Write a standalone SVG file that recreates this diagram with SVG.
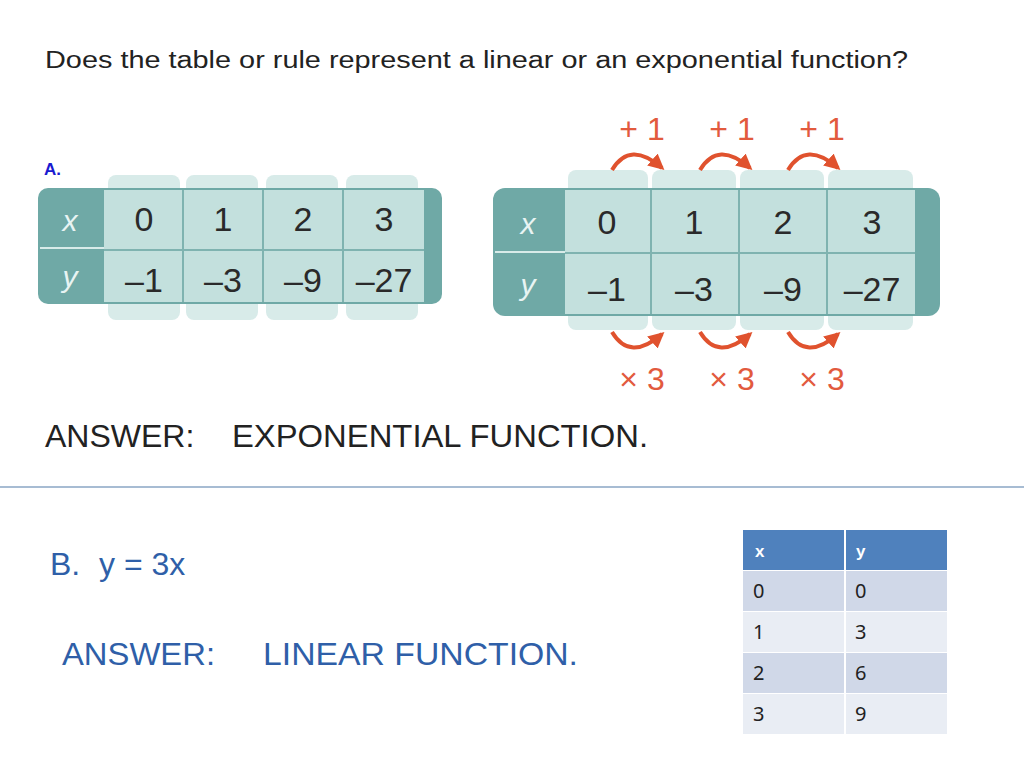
<svg xmlns="http://www.w3.org/2000/svg" width="1024" height="768" viewBox="0 0 1024 768">
<style>
text{font-family:"Liberation Sans","Noto Sans",sans-serif}
.tab{fill:#6fa9a6}
.cell{fill:#c3e0dd}
.ext{fill:#d8ebe9}
.num{font-size:34px;fill:#2a2a2a;text-anchor:middle}
.hx{font-size:30px;fill:#e8f4f3;font-style:italic;text-anchor:middle}
.red{font-size:32px;fill:#e25a3e;text-anchor:middle}
.arc{fill:none;stroke:#e0522e;stroke-width:4}
.sm{font-family:"Noto Sans","Liberation Sans",sans-serif;font-size:20px;fill:#222}
.blue{font-size:32px;fill:#2f5fa8}
</style>
<defs>
<marker id="ah" viewBox="0 0 10 10" refX="8" refY="5" markerWidth="4" markerHeight="4" orient="auto"><path d="M0,0L10,5L0,10z" fill="#e0522e"/></marker>
</defs>
<rect width="1024" height="768" fill="#fff"/>
<text x="45" y="68" font-size="23" fill="#222" textLength="863" lengthAdjust="spacingAndGlyphs">Does the table or rule represent a linear or an exponential function?</text>
<text x="44" y="175" font-size="17" font-weight="bold" fill="#1a1ad0">A.</text>

<g id="tableA">
<rect class="ext" x="108" y="175" width="72" height="145" rx="8"/>
<rect class="ext" x="186" y="175" width="72" height="145" rx="8"/>
<rect class="ext" x="266" y="175" width="72" height="145" rx="8"/>
<rect class="ext" x="346" y="175" width="72" height="145" rx="8"/>
<rect class="tab" x="38" y="188" width="404" height="116" rx="10"/>
<rect class="cell" x="104" y="190" width="320" height="112"/>
<g stroke="#7fb3b0" stroke-width="2"><line x1="104" y1="250" x2="424" y2="250"/><line x1="183" y1="190" x2="183" y2="302"/><line x1="263" y1="190" x2="263" y2="302"/><line x1="343" y1="190" x2="343" y2="302"/></g>
<line x1="40" y1="248" x2="104" y2="248" stroke="#d8ebe9" stroke-width="2"/>
<text class="hx" x="70" y="231">x</text><text class="hx" x="70" y="287">y</text>
<text class="num" x="144" y="231">0</text><text class="num" x="223" y="231">1</text><text class="num" x="303" y="231">2</text><text class="num" x="384" y="231">3</text>
<text class="num" x="144" y="292">–1</text><text class="num" x="223" y="292">–3</text><text class="num" x="303" y="292">–9</text><text class="num" x="384" y="292">–27</text>
</g>

<g id="tableB">
<rect class="ext" x="568" y="170" width="80" height="160" rx="8"/>
<rect class="ext" x="652" y="170" width="84" height="160" rx="8"/>
<rect class="ext" x="740" y="170" width="84" height="160" rx="8"/>
<rect class="ext" x="828" y="170" width="85" height="160" rx="8"/>
<rect class="tab" x="493" y="188" width="447" height="128" rx="12"/>
<rect class="cell" x="565" y="190" width="350" height="124"/>
<g stroke="#7fb3b0" stroke-width="2"><line x1="565" y1="253" x2="915" y2="253"/><line x1="651" y1="190" x2="651" y2="314"/><line x1="739" y1="190" x2="739" y2="314"/><line x1="827" y1="190" x2="827" y2="314"/></g>
<line x1="495" y1="252" x2="565" y2="252" stroke="#d8ebe9" stroke-width="2"/>
<text class="hx" x="528" y="234">x</text><text class="hx" x="528" y="295">y</text>
<text class="num" x="607" y="234">0</text><text class="num" x="694" y="234">1</text><text class="num" x="783" y="234">2</text><text class="num" x="872" y="234">3</text>
<text class="num" x="607" y="301">–1</text><text class="num" x="694" y="301">–3</text><text class="num" x="783" y="301">–9</text><text class="num" x="872" y="301">–27</text>
</g>

<g id="connectors">
<path class="arc" d="M612,170 Q630,140 662,168" marker-end="url(#ah)"/>
<path class="arc" d="M700,170 Q718,140 750,168" marker-end="url(#ah)"/>
<path class="arc" d="M788,170 Q806,140 838,168" marker-end="url(#ah)"/>
<path class="arc" d="M612,332 Q630,362 662,334" marker-end="url(#ah)"/>
<path class="arc" d="M700,332 Q718,362 750,334" marker-end="url(#ah)"/>
<path class="arc" d="M788,332 Q806,362 838,334" marker-end="url(#ah)"/>
</g>
<text class="red" x="642" y="140">+ 1</text><text class="red" x="732" y="140">+ 1</text><text class="red" x="822" y="140">+ 1</text>
<text class="red" x="642" y="390">× 3</text><text class="red" x="732" y="390">× 3</text><text class="red" x="822" y="390">× 3</text>

<text x="45" y="447" font-size="32" fill="#222">ANSWER:</text>
<text x="232" y="447" font-size="32" fill="#222" textLength="416" lengthAdjust="spacingAndGlyphs">EXPONENTIAL FUNCTION.</text>
<line x1="0" y1="487" x2="1024" y2="487" stroke="#8aa6c4" stroke-width="1.5"/>

<text class="blue" x="50" y="575">B.</text>
<text class="blue" x="99" y="575">y = 3x</text>
<text class="blue" x="62" y="665" textLength="153" lengthAdjust="spacingAndGlyphs">ANSWER:</text>
<text class="blue" x="263" y="665" textLength="315" lengthAdjust="spacingAndGlyphs">LINEAR  FUNCTION.</text>

<g id="tableC">
<rect x="743" y="530" width="204" height="40" fill="#4f81bd"/>
<rect x="743" y="571" width="204" height="40" fill="#d0d8e8"/>
<rect x="743" y="612" width="204" height="40" fill="#e9edf4"/>
<rect x="743" y="653" width="204" height="40" fill="#d0d8e8"/>
<rect x="743" y="694" width="204" height="40" fill="#e9edf4"/>
<line x1="845" y1="530" x2="845" y2="734" stroke="#fff" stroke-width="2"/>
<text x="755" y="557" font-size="17" font-weight="bold" fill="#fff">x</text>
<text x="856" y="557" font-size="17" font-weight="bold" fill="#fff">y</text>
<text class="sm" x="753" y="598">0</text><text class="sm" x="855" y="598">0</text>
<text class="sm" x="753" y="639">1</text><text class="sm" x="855" y="639">3</text>
<text class="sm" x="753" y="680">2</text><text class="sm" x="855" y="680">6</text>
<text class="sm" x="753" y="721">3</text><text class="sm" x="855" y="721">9</text>
</g>
</svg>
